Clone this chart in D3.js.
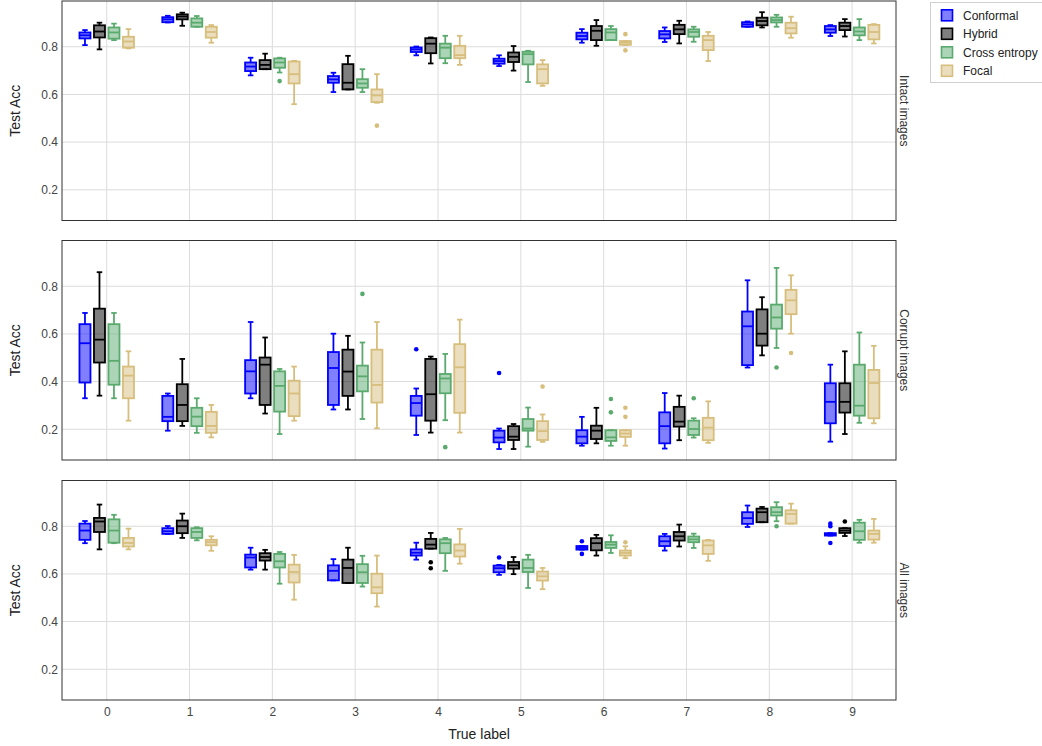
<!DOCTYPE html>
<html>
<head>
<meta charset="utf-8">
<script src="https://cdn.jsdelivr.net/npm/d3@7"></script>
<style>
  html, body { margin: 0; padding: 0; background: #fff; }
  svg text { font-family: "Liberation Sans", Arial, sans-serif; }
</style>
</head>
<body>
<svg id="chart" width="1042" height="746"></svg>
<script>
// ---------------- DATA ----------------
const categories = ["0","1","2","3","4","5","6","7","8","9"];
const methods = ["Conformal","Hybrid","Cross entropy","Focal"];
const panels = ["Intact images","Corrupt images","All images"];
const yTicks = [0.2, 0.4, 0.6, 0.8];

// each entry: [min whisker, q1, median, q3, max whisker] per category 0..9
const intactConformal = [[0.807,0.835,0.848,0.860,0.870],[0.902,0.903,0.915,0.924,0.930],[0.680,0.698,0.717,0.734,0.754],[0.610,0.649,0.663,0.677,0.691],[0.764,0.778,0.789,0.797,0.801],[0.719,0.729,0.740,0.750,0.764],[0.817,0.831,0.845,0.859,0.874],[0.820,0.835,0.852,0.866,0.881],[0.884,0.884,0.894,0.903,0.906],[0.845,0.859,0.873,0.887,0.891]];
const intactHybrid = [[0.789,0.839,0.864,0.890,0.901],[0.888,0.915,0.927,0.936,0.943],[0.706,0.706,0.724,0.744,0.771],[0.621,0.621,0.649,0.727,0.762],[0.730,0.773,0.813,0.836,0.839],[0.700,0.736,0.758,0.776,0.803],[0.804,0.828,0.867,0.887,0.912],[0.814,0.853,0.873,0.892,0.909],[0.881,0.890,0.908,0.922,0.945],[0.843,0.870,0.887,0.901,0.916]];
const intactCross = [[0.828,0.834,0.860,0.881,0.897],[0.884,0.884,0.901,0.919,0.929],[0.692,0.712,0.734,0.751,0.754],[0.610,0.628,0.646,0.664,0.706],[0.731,0.752,0.796,0.813,0.846],[0.652,0.726,0.769,0.779,0.783],[0.828,0.828,0.860,0.874,0.887],[0.821,0.842,0.862,0.873,0.884],[0.884,0.902,0.912,0.923,0.934],[0.828,0.848,0.864,0.881,0.916]];
const intactFocal = [[0.793,0.796,0.822,0.842,0.874],[0.817,0.838,0.862,0.884,0.891],[0.559,0.646,0.685,0.738,0.741],[0.565,0.568,0.596,0.621,0.685],[0.724,0.752,0.765,0.804,0.846],[0.636,0.646,0.706,0.726,0.744],[0.808,0.808,0.817,0.824,0.824],[0.740,0.786,0.828,0.846,0.862],[0.838,0.856,0.878,0.901,0.926],[0.814,0.831,0.862,0.892,0.895]];

const corruptConformal = [[0.330,0.396,0.561,0.641,0.688],[0.194,0.234,0.252,0.340,0.350],[0.330,0.350,0.443,0.490,0.650],[0.283,0.302,0.457,0.524,0.601],[0.176,0.257,0.310,0.340,0.371],[0.117,0.145,0.165,0.194,0.203],[0.131,0.141,0.169,0.196,0.252],[0.119,0.141,0.213,0.271,0.352],[0.459,0.469,0.632,0.694,0.825],[0.148,0.225,0.315,0.393,0.471]];
const corruptHybrid = [[0.341,0.480,0.576,0.706,0.859],[0.214,0.234,0.302,0.389,0.495],[0.266,0.302,0.471,0.501,0.585],[0.283,0.340,0.442,0.534,0.592],[0.186,0.236,0.347,0.495,0.505],[0.117,0.155,0.169,0.213,0.222],[0.141,0.159,0.194,0.215,0.290],[0.154,0.211,0.232,0.294,0.341],[0.510,0.551,0.601,0.703,0.754],[0.180,0.270,0.315,0.393,0.527]];
const corruptCross = [[0.330,0.387,0.487,0.641,0.688],[0.185,0.213,0.253,0.290,0.330],[0.180,0.274,0.382,0.443,0.453],[0.243,0.359,0.422,0.467,0.564],[0.238,0.351,0.413,0.432,0.516],[0.127,0.194,0.203,0.243,0.291],[0.131,0.151,0.166,0.196,0.196],[0.165,0.176,0.201,0.236,0.246],[0.541,0.622,0.669,0.723,0.877],[0.227,0.257,0.299,0.471,0.606]];
const corruptFocal = [[0.236,0.330,0.425,0.463,0.527],[0.166,0.185,0.214,0.273,0.302],[0.236,0.255,0.350,0.404,0.463],[0.204,0.312,0.386,0.534,0.650],[0.186,0.269,0.460,0.557,0.660],[0.147,0.155,0.192,0.234,0.262],[0.131,0.168,0.182,0.196,0.196],[0.143,0.154,0.207,0.248,0.317],[0.601,0.683,0.741,0.785,0.846],[0.225,0.246,0.394,0.449,0.550]];

const allConformal = [[0.729,0.743,0.782,0.811,0.822],[0.768,0.768,0.779,0.792,0.801],[0.618,0.627,0.669,0.681,0.710],[0.573,0.573,0.613,0.636,0.662],[0.660,0.677,0.689,0.703,0.731],[0.596,0.607,0.624,0.635,0.638],[0.702,0.702,0.709,0.717,0.717],[0.698,0.717,0.737,0.758,0.768],[0.797,0.810,0.834,0.859,0.887],[0.761,0.761,0.765,0.771,0.771]];
const allHybrid = [[0.703,0.776,0.820,0.835,0.891],[0.751,0.771,0.800,0.824,0.853],[0.618,0.656,0.671,0.687,0.701],[0.562,0.562,0.625,0.660,0.710],[0.706,0.706,0.723,0.747,0.772],[0.599,0.622,0.636,0.650,0.671],[0.677,0.699,0.729,0.750,0.764],[0.715,0.740,0.758,0.776,0.807],[0.817,0.817,0.859,0.874,0.881],[0.759,0.772,0.782,0.792,0.792]];
const allCross = [[0.729,0.731,0.782,0.829,0.848],[0.741,0.751,0.776,0.792,0.796],[0.559,0.627,0.653,0.684,0.692],[0.547,0.562,0.607,0.641,0.676],[0.613,0.687,0.729,0.745,0.751],[0.541,0.608,0.625,0.660,0.680],[0.688,0.709,0.723,0.734,0.762],[0.709,0.733,0.745,0.757,0.769],[0.821,0.845,0.859,0.880,0.901],[0.731,0.743,0.779,0.815,0.827]];
const allFocal = [[0.703,0.715,0.730,0.751,0.790],[0.697,0.720,0.733,0.743,0.758],[0.492,0.564,0.608,0.639,0.680],[0.463,0.519,0.544,0.601,0.677],[0.643,0.673,0.698,0.724,0.789],[0.536,0.572,0.590,0.610,0.625],[0.666,0.677,0.688,0.698,0.716],[0.655,0.684,0.720,0.740,0.743],[0.811,0.811,0.852,0.867,0.895],[0.731,0.744,0.768,0.782,0.831]];

// outliers: [method index, category index, value]
const intactOutliers = [[2,2,0.656],[3,3,0.469],[3,6,0.853],[3,6,0.785]];
const corruptOutliers = [[0,4,0.536],[0,5,0.436],[2,3,0.768],[2,4,0.125],[3,5,0.379],[2,6,0.327],[2,6,0.271],[3,6,0.290],[3,6,0.252],[2,7,0.330],[2,8,0.459],[3,8,0.520]];
const allOutliers = [[0,5,0.669],[0,6,0.737],[0,6,0.684],[1,4,0.649],[1,4,0.624],[0,9,0.811],[0,9,0.800],[0,9,0.730],[1,9,0.820],[2,8,0.800],[3,6,0.733]];

const lineColors = ["#0000ff","#000000","#5aaa6e","#d7be7d"];
const fillColors = ["rgba(0,0,255,0.5)","rgba(0,0,0,0.5)","rgba(90,170,110,0.5)","rgba(215,190,125,0.5)"];

const panelBoxes = [
  [intactConformal, intactHybrid, intactCross, intactFocal],
  [corruptConformal, corruptHybrid, corruptCross, corruptFocal],
  [allConformal, allHybrid, allCross, allFocal]
];
const panelOutliers = [intactOutliers, corruptOutliers, allOutliers];

// ---------------- LAYOUT ----------------
const svg = d3.select("#chart");
const left = 62, right = 896;
const panelTops = [1, 240.5, 480.5];
const panelH = 219.5;

const x = d3.scaleLinear().domain([-0.54, 9.53]).range([left, right]);
const off = d3.scaleBand().domain(methods).range([-29, 29]);
const boxW = 11, capW = 5.5;

panels.forEach((pname, pi) => {
  const top = panelTops[pi], bottom = top + panelH;
  const y = d3.scaleLinear().domain([0.071, 0.992]).range([bottom, top]);
  const g = svg.append("g");

  // grid
  g.selectAll(".hg").data(yTicks).enter().append("line")
    .attr("x1", left).attr("x2", right)
    .attr("y1", d => y(d)).attr("y2", d => y(d))
    .attr("stroke", "#dcdcdc").attr("stroke-width", 1);
  g.selectAll(".vg").data(categories).enter().append("line")
    .attr("y1", top).attr("y2", bottom)
    .attr("x1", (d,i) => x(i)).attr("x2", (d,i) => x(i))
    .attr("stroke", "#dcdcdc").attr("stroke-width", 1);

  // y axis labels
  const yAxis = d3.axisLeft(y).tickValues(yTicks).tickSize(0).tickPadding(4).tickFormat(d3.format(".1f"));
  const ya = g.append("g").attr("transform", `translate(${left},0)`).call(yAxis);
  ya.select(".domain").remove();
  ya.selectAll("text").attr("font-size", 12).attr("fill", "#444")
    .style("font-family", '"Liberation Sans", Arial, sans-serif');

  // y title
  g.append("text")
    .attr("transform", `translate(20,${(top+bottom)/2}) rotate(-90)`)
    .attr("text-anchor", "middle").attr("font-size", 14).attr("fill", "#222")
    .text("Test Acc");

  // strip label
  g.append("text")
    .attr("transform", `translate(900,${(top+bottom)/2}) rotate(90)`)
    .attr("text-anchor", "middle").attr("font-size", 12).attr("fill", "#333")
    .text(pname);

  // boxes
  panelBoxes[pi].forEach((series, mi) => {
    const col = lineColors[mi];
    series.forEach((s, ci) => {
      const cx = x(ci) + off(methods[mi]) + off.bandwidth()/2;
      const [mn, q1, md, q3, mx] = s;
      const bg = g.append("g");
      bg.append("line").attr("x1", cx).attr("x2", cx).attr("y1", y(mx)).attr("y2", y(q3))
        .attr("stroke", col).attr("stroke-width", 1.8);
      bg.append("line").attr("x1", cx).attr("x2", cx).attr("y1", y(q1)).attr("y2", y(mn))
        .attr("stroke", col).attr("stroke-width", 1.8);
      bg.append("line").attr("x1", cx-capW/2).attr("x2", cx+capW/2).attr("y1", y(mx)).attr("y2", y(mx))
        .attr("stroke", col).attr("stroke-width", 1.8);
      bg.append("line").attr("x1", cx-capW/2).attr("x2", cx+capW/2).attr("y1", y(mn)).attr("y2", y(mn))
        .attr("stroke", col).attr("stroke-width", 1.8);
      bg.append("rect").attr("x", cx-boxW/2).attr("width", boxW)
        .attr("y", y(q3)).attr("height", Math.max(1, y(q1)-y(q3)))
        .attr("fill", fillColors[mi]).attr("stroke", col).attr("stroke-width", 1.8);
      bg.append("line").attr("x1", cx-boxW/2).attr("x2", cx+boxW/2).attr("y1", y(md)).attr("y2", y(md))
        .attr("stroke", col).attr("stroke-width", 1.8);
    });
  });

  // outliers
  g.selectAll(".out").data(panelOutliers[pi]).enter().append("circle")
    .attr("cx", d => x(d[1]) + off(methods[d[0]]) + off.bandwidth()/2)
    .attr("cy", d => y(d[2]))
    .attr("r", 2.3)
    .attr("fill", d => lineColors[d[0]]);

  // border
  g.append("rect").attr("x", left).attr("y", top).attr("width", right-left).attr("height", panelH)
    .attr("fill", "none").attr("stroke", "#333").attr("stroke-width", 1);

  // x axis on bottom panel
  if (pi === 2) {
    const xa = g.append("g").attr("transform", `translate(0,${bottom})`)
      .call(d3.axisBottom(x).tickValues(d3.range(categories.length)).tickSize(0).tickPadding(7)
        .tickFormat(i => categories[i]));
    xa.select(".domain").remove();
    xa.selectAll("text").attr("font-size", 12).attr("fill", "#444")
      .style("font-family", '"Liberation Sans", Arial, sans-serif');
    g.append("text").attr("x", (left+right)/2).attr("y", 739)
      .attr("text-anchor", "middle").attr("font-size", 14).attr("fill", "#222")
      .text("True label");
  }
});

// legend
const lg = svg.append("g");
lg.append("rect").attr("x", 930.5).attr("y", 2.5).attr("width", 130).attr("height", 80)
  .attr("fill", "#fff").attr("stroke", "#d0d0d0").attr("stroke-width", 1);
methods.forEach((m, i) => {
  const cy = 15.3 + i * 18.5;
  lg.append("rect").attr("x", 941.5).attr("y", cy - 5.5).attr("width", 11).attr("height", 11)
    .attr("fill", fillColors[i]).attr("stroke", lineColors[i]).attr("stroke-width", 1.6);
  lg.append("text").attr("x", 963).attr("y", cy + 4.2).attr("font-size", 12).attr("fill", "#222").text(m);
});
</script>
</body>
</html>
